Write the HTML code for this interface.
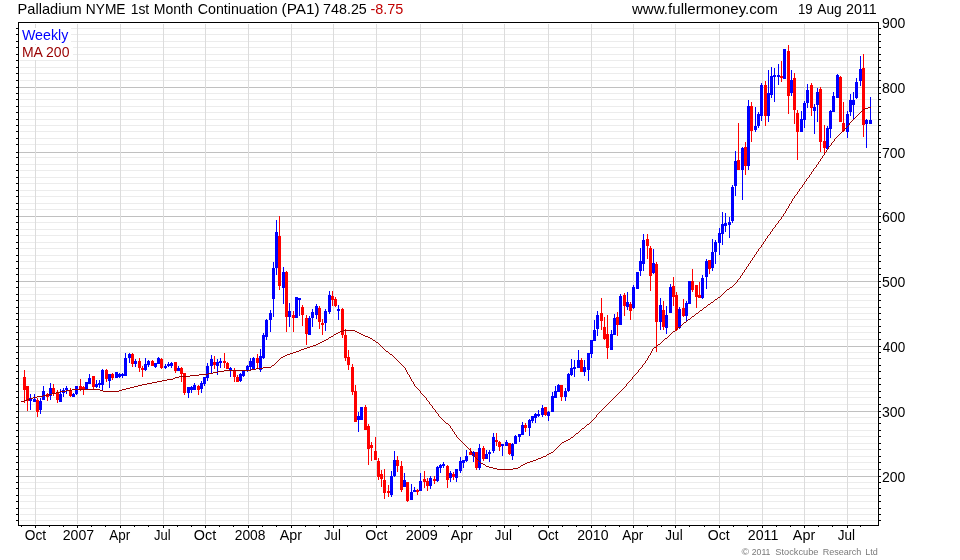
<!DOCTYPE html>
<html><head><meta charset="utf-8"><title>Palladium NYME 1st Month Continuation</title>
<style>
html,body{margin:0;padding:0;background:#fff}
body{width:960px;height:560px;position:relative;overflow:hidden;font-family:"Liberation Sans",Arial,sans-serif;color:#000}
</style></head><body>
<svg width="960" height="560" viewBox="0 0 960 560" shape-rendering="crispEdges" style="position:absolute;left:0;top:0">
<path d="M20 520.5H877M20 514.5H877M20 508.5H877M20 501.5H877M20 495.5H877M20 488.5H877M20 482.5H877M20 469.5H877M20 462.5H877M20 456.5H877M20 449.5H877M20 443.5H877M20 436.5H877M20 430.5H877M20 423.5H877M20 417.5H877M20 404.5H877M20 397.5H877M20 391.5H877M20 384.5H877M20 378.5H877M20 371.5H877M20 365.5H877M20 358.5H877M20 352.5H877M20 339.5H877M20 332.5H877M20 326.5H877M20 319.5H877M20 313.5H877M20 307.5H877M20 300.5H877M20 294.5H877M20 287.5H877M20 274.5H877M20 268.5H877M20 261.5H877M20 255.5H877M20 248.5H877M20 242.5H877M20 235.5H877M20 229.5H877M20 222.5H877M20 209.5H877M20 203.5H877M20 196.5H877M20 190.5H877M20 183.5H877M20 177.5H877M20 170.5H877M20 164.5H877M20 157.5H877M20 144.5H877M20 138.5H877M20 131.5H877M20 125.5H877M20 119.5H877M20 112.5H877M20 106.5H877M20 99.5H877M20 93.5H877M20 80.5H877M20 73.5H877M20 67.5H877M20 60.5H877M20 54.5H877M20 47.5H877M20 41.5H877M20 34.5H877M20 28.5H877" stroke="#ececec" stroke-width="1" fill="none"/>
<path d="M19 476.5H878M19 411.5H878M19 346.5H878M19 281.5H878M19 216.5H878M19 152.5H878M19 87.5H878" stroke="#c0c0c0" stroke-width="1" fill="none"/>
<path d="M35.5 24V524M77.5 24V524M120.5 24V524M163.5 24V524M205.5 24V524M248.5 24V524M291.5 24V524M333.5 24V524M376.5 24V524M420.5 24V524M462.5 24V524M504.5 24V524M548.5 24V524M591.5 24V524M633.5 24V524M675.5 24V524M719.5 24V524M762.5 24V524M804.5 24V524M847.5 24V524" stroke="#dcdcdc" stroke-width="1" fill="none"/>
<rect x="19" y="28" width="52" height="16" fill="#fff"/><rect x="19" y="45" width="54" height="15" fill="#fff"/>
<path d="M24 370h1v33h-1zM23 377h3v13h-3zM27 386h1v25h-1zM26 386h3v15h-3zM37 398h1v19h-1zM36 400h3v12h-3zM47 393h1v8h-1zM46 394h3v3h-3zM53 384h1v12h-1zM52 388h3v5h-3zM57 390h1v13h-1zM56 392h3v8h-3zM70 388h1v9h-1zM69 390h3v6h-3zM80 379h1v12h-1zM79 386h3v3h-3zM83 386h1v9h-1zM82 387h3v2h-3zM93 376h1v13h-1zM92 376h3v11h-3zM106 369h1v13h-1zM105 370h3v9h-3zM112 373h1v7h-1zM111 374h3v4h-3zM132 353h1v14h-1zM131 354h3v10h-3zM139 358h1v14h-1zM138 361h3v7h-3zM142 366h1v11h-1zM141 368h3v2h-3zM152 360h1v6h-1zM151 361h3v5h-3zM161 358h1v11h-1zM160 359h3v9h-3zM175 362h1v11h-1zM174 362h3v9h-3zM181 367h1v15h-1zM180 368h3v6h-3zM184 373h1v22h-1zM183 373h3v20h-3zM198 385h1v10h-1zM197 386h3v4h-3zM214 356h1v13h-1zM213 362h3v3h-3zM224 353h1v15h-1zM223 361h3v2h-3zM227 362h1v7h-1zM226 363h3v6h-3zM234 368h1v14h-1zM233 370h3v7h-3zM237 375h1v7h-1zM236 377h3v5h-3zM257 354h1v14h-1zM256 358h3v5h-3zM279 216h1v74h-1zM278 236h3v50h-3zM286 271h1v61h-1zM285 272h3v45h-3zM293 311h1v21h-1zM292 315h3v3h-3zM302 305h1v21h-1zM301 307h3v8h-3zM306 315h1v30h-1zM305 318h3v16h-3zM319 306h1v23h-1zM318 308h3v14h-3zM322 319h1v16h-1zM321 323h3v2h-3zM332 291h1v15h-1zM331 296h3v4h-3zM335 297h1v10h-1zM334 299h3v7h-3zM342 308h1v30h-1zM341 309h3v26h-3zM345 329h1v32h-1zM344 335h3v23h-3zM348 350h1v20h-1zM347 357h3v8h-3zM352 364h1v31h-1zM351 367h3v25h-3zM355 385h1v37h-1zM354 391h3v31h-3zM365 405h1v25h-1zM364 407h3v23h-3zM368 424h1v41h-1zM367 426h3v23h-3zM371 442h1v19h-1zM370 445h3v3h-3zM375 437h1v23h-1zM374 451h3v9h-3zM378 458h1v22h-1zM377 461h3v16h-3zM381 470h1v17h-1zM380 474h3v5h-3zM384 469h1v30h-1zM383 480h3v13h-3zM388 485h1v12h-1zM387 491h3v2h-3zM397 456h1v16h-1zM396 460h3v6h-3zM401 461h1v31h-1zM400 466h3v24h-3zM407 482h1v20h-1zM406 482h3v19h-3zM417 489h1v6h-1zM416 490h3v2h-3zM424 471h1v17h-1zM423 479h3v3h-3zM427 478h1v13h-1zM426 481h3v5h-3zM434 476h1v8h-1zM433 479h3v2h-3zM447 465h1v23h-1zM446 466h3v14h-3zM453 472h1v8h-1zM452 474h3v3h-3zM470 448h1v7h-1zM469 452h3v3h-3zM476 452h1v18h-1zM475 452h3v16h-3zM483 446h1v15h-1zM482 448h3v11h-3zM496 433h1v13h-1zM495 440h3v2h-3zM499 441h1v10h-1zM498 442h3v5h-3zM509 443h1v12h-1zM508 443h3v11h-3zM525 423h1v9h-1zM524 425h3v3h-3zM545 407h1v9h-1zM544 407h3v8h-3zM561 385h1v16h-1zM560 385h3v12h-3zM581 358h1v14h-1zM580 360h3v12h-3zM601 298h1v32h-1zM600 313h3v8h-3zM604 317h1v23h-1zM603 327h3v12h-3zM607 315h1v44h-1zM606 334h3v14h-3zM617 312h1v24h-1zM616 317h3v8h-3zM624 293h1v23h-1zM623 295h3v11h-3zM630 302h1v18h-1zM629 304h3v7h-3zM647 234h1v25h-1zM646 239h3v7h-3zM650 246h1v45h-1zM649 248h3v28h-3zM656 262h1v90h-1zM655 264h3v58h-3zM663 301h1v29h-1zM662 310h3v17h-3zM673 277h1v29h-1zM672 286h3v11h-3zM676 292h1v39h-1zM675 295h3v35h-3zM683 299h1v18h-1zM682 308h3v8h-3zM692 269h1v23h-1zM691 281h3v9h-3zM696 285h1v23h-1zM695 285h3v12h-3zM699 282h1v16h-1zM698 295h3v3h-3zM709 260h1v14h-1zM708 260h3v9h-3zM738 123h1v47h-1zM737 160h3v10h-3zM745 142h1v33h-1zM744 147h3v19h-3zM751 102h1v40h-1zM750 106h3v25h-3zM765 81h1v45h-1zM764 85h3v31h-3zM781 61h1v21h-1zM780 76h3v2h-3zM788 45h1v69h-1zM787 51h3v45h-3zM794 73h1v51h-1zM793 78h3v32h-3zM797 110h1v50h-1zM796 113h3v19h-3zM811 83h1v33h-1zM810 85h3v23h-3zM820 87h1v65h-1zM819 89h3v53h-3zM824 125h1v29h-1zM823 141h3v7h-3zM840 76h1v46h-1zM839 77h3v45h-3zM843 102h1v30h-1zM842 123h3v8h-3zM863 54h1v83h-1zM862 68h3v57h-3z" fill="#ff0000"/>
<path d="M30 394h1v16h-1zM29 398h3v3h-3zM34 394h1v8h-1zM33 399h3v3h-3zM40 398h1v16h-1zM39 401h3v9h-3zM43 386h1v14h-1zM42 391h3v9h-3zM50 383h1v17h-1zM49 388h3v8h-3zM60 389h1v13h-1zM59 394h3v8h-3zM63 388h1v9h-1zM62 390h3v3h-3zM66 386h1v8h-1zM65 388h3v2h-3zM73 393h1v4h-1zM72 394h3v3h-3zM76 386h1v9h-1zM75 386h3v8h-3zM86 382h1v7h-1zM85 382h3v7h-3zM89 374h1v10h-1zM88 378h3v6h-3zM96 380h1v8h-1zM95 384h3v3h-3zM99 380h1v8h-1zM98 383h3v2h-3zM102 369h1v21h-1zM101 370h3v15h-3zM109 374h1v14h-1zM108 374h3v7h-3zM116 372h1v6h-1zM115 372h3v6h-3zM119 373h1v5h-1zM118 374h3v3h-3zM122 373h1v5h-1zM121 374h3v2h-3zM125 353h1v23h-1zM124 358h3v18h-3zM129 353h1v10h-1zM128 354h3v4h-3zM135 359h1v8h-1zM134 361h3v3h-3zM145 358h1v13h-1zM144 364h3v6h-3zM148 360h1v7h-1zM147 361h3v4h-3zM155 363h1v5h-1zM154 363h3v4h-3zM158 357h1v7h-1zM157 358h3v6h-3zM165 364h1v5h-1zM164 366h3v2h-3zM168 362h1v5h-1zM167 364h3v2h-3zM171 362h1v6h-1zM170 363h3v3h-3zM178 366h1v5h-1zM177 368h3v3h-3zM188 387h1v11h-1zM187 387h3v6h-3zM191 386h1v7h-1zM190 387h3v3h-3zM194 383h1v7h-1zM193 385h3v5h-3zM201 381h1v12h-1zM200 383h3v6h-3zM204 377h1v9h-1zM203 377h3v7h-3zM207 363h1v18h-1zM206 366h3v12h-3zM211 355h1v18h-1zM210 359h3v7h-3zM217 359h1v16h-1zM216 362h3v4h-3zM220 358h1v10h-1zM219 361h3v2h-3zM230 367h1v10h-1zM229 368h3v2h-3zM240 373h1v9h-1zM239 374h3v7h-3zM243 371h1v6h-1zM242 371h3v5h-3zM247 365h1v7h-1zM246 366h3v4h-3zM250 358h1v12h-1zM249 361h3v6h-3zM253 357h1v13h-1zM252 358h3v11h-3zM260 349h1v23h-1zM259 356h3v14h-3zM263 333h1v26h-1zM262 335h3v23h-3zM266 319h1v21h-1zM265 320h3v17h-3zM270 310h1v22h-1zM269 313h3v7h-3zM273 262h1v55h-1zM272 268h3v31h-3zM276 220h1v55h-1zM275 232h3v36h-3zM283 267h1v37h-1zM282 272h3v16h-3zM289 303h1v24h-1zM288 311h3v6h-3zM296 297h1v21h-1zM295 297h3v21h-3zM299 298h1v18h-1zM298 298h3v2h-3zM309 316h1v19h-1zM308 318h3v17h-3zM312 309h1v18h-1zM311 312h3v6h-3zM316 304h1v15h-1zM315 306h3v9h-3zM325 309h1v22h-1zM324 311h3v12h-3zM329 291h1v23h-1zM328 295h3v17h-3zM338 305h1v15h-1zM337 309h3v2h-3zM358 412h1v20h-1zM357 416h3v4h-3zM361 407h1v13h-1zM360 407h3v13h-3zM391 471h1v26h-1zM390 476h3v19h-3zM394 451h1v26h-1zM393 460h3v16h-3zM404 473h1v14h-1zM403 480h3v7h-3zM411 484h1v16h-1zM410 492h3v8h-3zM414 487h1v5h-1zM413 490h3v2h-3zM420 473h1v18h-1zM419 481h3v10h-3zM430 476h1v13h-1zM429 478h3v8h-3zM437 466h1v16h-1zM436 467h3v14h-3zM440 464h1v9h-1zM439 465h3v3h-3zM443 462h1v6h-1zM442 464h3v2h-3zM450 471h1v11h-1zM449 473h3v5h-3zM456 469h1v13h-1zM455 469h3v9h-3zM460 457h1v16h-1zM459 461h3v10h-3zM463 460h1v8h-1zM462 460h3v3h-3zM466 450h1v12h-1zM465 456h3v5h-3zM473 451h1v11h-1zM472 452h3v4h-3zM479 444h1v26h-1zM478 448h3v20h-3zM486 450h1v9h-1zM485 454h3v5h-3zM489 450h1v12h-1zM488 452h3v2h-3zM493 433h1v20h-1zM492 437h3v14h-3zM502 444h1v12h-1zM501 444h3v2h-3zM506 440h1v6h-1zM505 442h3v4h-3zM512 443h1v17h-1zM511 444h3v12h-3zM515 435h1v9h-1zM514 436h3v8h-3zM519 434h1v8h-1zM518 434h3v3h-3zM522 422h1v13h-1zM521 425h3v10h-3zM529 419h1v17h-1zM528 420h3v8h-3zM532 416h1v7h-1zM531 416h3v5h-3zM535 413h1v10h-1zM534 414h3v4h-3zM538 410h1v7h-1zM537 414h3v2h-3zM542 405h1v12h-1zM541 408h3v7h-3zM548 411h1v10h-1zM547 412h3v4h-3zM552 392h1v20h-1zM551 396h3v16h-3zM555 386h1v12h-1zM554 391h3v7h-3zM558 384h1v8h-1zM557 385h3v7h-3zM565 388h1v13h-1zM564 391h3v6h-3zM568 373h1v19h-1zM567 374h3v17h-3zM571 359h1v17h-1zM570 368h3v7h-3zM574 360h1v17h-1zM573 367h3v2h-3zM578 350h1v18h-1zM577 360h3v8h-3zM584 360h1v16h-1zM583 367h3v5h-3zM588 353h1v28h-1zM587 353h3v17h-3zM591 340h1v18h-1zM590 340h3v14h-3zM594 320h1v21h-1zM593 330h3v11h-3zM597 311h1v25h-1zM596 315h3v14h-3zM611 330h1v20h-1zM610 334h3v16h-3zM614 314h1v21h-1zM613 318h3v17h-3zM620 294h1v31h-1zM619 296h3v29h-3zM627 292h1v18h-1zM626 302h3v5h-3zM633 285h1v24h-1zM632 287h3v21h-3zM637 272h1v17h-1zM636 272h3v17h-3zM640 248h1v28h-1zM639 261h3v10h-3zM643 234h1v37h-1zM642 240h3v24h-3zM653 249h1v25h-1zM652 263h3v10h-3zM660 298h1v32h-1zM659 305h3v17h-3zM666 306h1v28h-1zM665 315h3v13h-3zM670 284h1v29h-1zM669 287h3v26h-3zM679 307h1v22h-1zM678 309h3v19h-3zM686 301h1v21h-1zM685 303h3v13h-3zM689 281h1v23h-1zM688 281h3v23h-3zM702 275h1v24h-1zM701 278h3v20h-3zM706 259h1v30h-1zM705 261h3v16h-3zM712 239h1v32h-1zM711 252h3v16h-3zM715 240h1v24h-1zM714 242h3v10h-3zM719 228h1v27h-1zM718 233h3v10h-3zM722 212h1v33h-1zM721 224h3v10h-3zM725 213h1v19h-1zM724 223h3v3h-3zM729 217h1v21h-1zM728 222h3v3h-3zM732 185h1v38h-1zM731 187h3v34h-3zM735 151h1v45h-1zM734 161h3v25h-3zM742 147h1v53h-1zM741 148h3v22h-3zM748 100h1v70h-1zM747 106h3v60h-3zM755 107h1v25h-1zM754 126h3v4h-3zM758 112h1v16h-1zM757 114h3v12h-3zM761 83h1v38h-1zM760 85h3v31h-3zM768 70h1v52h-1zM767 93h3v23h-3zM771 67h1v31h-1zM770 76h3v19h-3zM774 68h1v34h-1zM773 75h3v2h-3zM778 64h1v21h-1zM777 75h3v2h-3zM784 49h1v30h-1zM783 49h3v30h-3zM791 70h1v26h-1zM790 80h3v13h-3zM801 111h1v21h-1zM800 119h3v13h-3zM804 101h1v27h-1zM803 103h3v17h-3zM807 84h1v24h-1zM806 90h3v13h-3zM814 104h1v30h-1zM813 107h3v4h-3zM817 88h1v34h-1zM816 92h3v13h-3zM827 126h1v23h-1zM826 128h3v21h-3zM830 110h1v28h-1zM829 111h3v18h-3zM833 92h1v20h-1zM832 96h3v16h-3zM837 74h1v24h-1zM836 75h3v23h-3zM847 111h1v27h-1zM846 114h3v18h-3zM850 94h1v22h-1zM849 100h3v12h-3zM853 92h1v28h-1zM852 100h3v5h-3zM856 78h1v21h-1zM855 82h3v16h-3zM860 56h1v30h-1zM859 69h3v12h-3zM866 119h1v29h-1zM865 120h3v4h-3zM870 97h1v27h-1zM869 120h3v4h-3z" fill="#0000ff"/>
<path d="M21 401h1v1h-1zM22 401h1v1h-1zM23 401h1v1h-1zM24 400h1v1h-1zM25 400h1v1h-1zM26 400h1v1h-1zM27 399h1v1h-1zM28 399h1v1h-1zM29 399h1v1h-1zM30 398h1v1h-1zM31 398h1v1h-1zM32 398h1v1h-1zM33 397h1v1h-1zM34 397h1v1h-1zM35 397h1v1h-1zM36 397h1v1h-1zM37 396h1v1h-1zM38 396h1v1h-1zM39 396h1v1h-1zM40 396h1v1h-1zM41 396h1v1h-1zM42 396h1v1h-1zM43 395h1v1h-1zM44 395h1v1h-1zM45 395h1v1h-1zM46 395h1v1h-1zM47 395h1v1h-1zM48 394h1v1h-1zM49 394h1v1h-1zM50 394h1v1h-1zM51 394h1v1h-1zM52 393h1v1h-1zM53 393h1v1h-1zM54 393h1v1h-1zM55 393h1v1h-1zM56 392h1v1h-1zM57 392h1v1h-1zM58 392h1v1h-1zM59 392h1v1h-1zM60 391h1v1h-1zM61 391h1v1h-1zM62 391h1v1h-1zM63 391h1v1h-1zM64 391h1v1h-1zM65 391h1v1h-1zM66 390h1v1h-1zM67 390h1v1h-1zM68 390h1v1h-1zM69 390h1v1h-1zM70 390h1v1h-1zM71 390h1v1h-1zM72 389h1v1h-1zM73 389h1v1h-1zM74 389h1v1h-1zM75 389h1v1h-1zM76 389h1v1h-1zM77 389h1v1h-1zM78 389h1v1h-1zM79 389h1v1h-1zM80 389h1v1h-1zM81 389h1v1h-1zM82 389h1v1h-1zM83 389h1v1h-1zM84 389h1v1h-1zM85 389h1v1h-1zM86 389h1v1h-1zM87 389h1v1h-1zM88 389h1v1h-1zM89 389h1v1h-1zM90 389h1v1h-1zM91 389h1v1h-1zM92 389h1v1h-1zM93 389h1v1h-1zM94 389h1v1h-1zM95 389h1v1h-1zM96 389h1v1h-1zM97 389h1v1h-1zM98 389h1v1h-1zM99 389h1v1h-1zM100 390h1v1h-1zM101 390h1v1h-1zM102 390h1v1h-1zM103 391h1v1h-1zM104 391h1v1h-1zM105 391h1v1h-1zM106 391h1v1h-1zM107 391h1v1h-1zM108 391h1v1h-1zM109 391h1v1h-1zM110 391h1v1h-1zM111 391h1v1h-1zM112 391h1v1h-1zM113 391h1v1h-1zM114 391h1v1h-1zM115 391h1v1h-1zM116 391h1v1h-1zM117 391h1v1h-1zM118 391h1v1h-1zM119 390h1v1h-1zM120 390h1v1h-1zM121 390h1v1h-1zM122 389h1v1h-1zM123 389h1v1h-1zM124 389h1v1h-1zM125 389h1v1h-1zM126 388h1v1h-1zM127 388h1v1h-1zM128 388h1v1h-1zM129 388h1v1h-1zM130 387h1v1h-1zM131 387h1v1h-1zM132 387h1v1h-1zM133 387h1v1h-1zM134 386h1v1h-1zM135 386h1v1h-1zM136 386h1v1h-1zM137 386h1v1h-1zM138 385h1v1h-1zM139 385h1v1h-1zM140 385h1v1h-1zM141 385h1v1h-1zM142 384h1v1h-1zM143 384h1v1h-1zM144 384h1v1h-1zM145 384h1v1h-1zM146 384h1v1h-1zM147 383h1v1h-1zM148 383h1v1h-1zM149 383h1v1h-1zM150 383h1v1h-1zM151 383h1v1h-1zM152 382h1v1h-1zM153 382h1v1h-1zM154 382h1v1h-1zM155 382h1v1h-1zM156 382h1v1h-1zM157 381h1v1h-1zM158 381h1v1h-1zM159 381h1v1h-1zM160 381h1v1h-1zM161 381h1v1h-1zM162 380h1v1h-1zM163 380h1v1h-1zM164 380h1v1h-1zM165 380h1v1h-1zM166 380h1v1h-1zM167 379h1v1h-1zM168 379h1v1h-1zM169 379h1v1h-1zM170 379h1v1h-1zM171 379h1v1h-1zM172 379h1v1h-1zM173 378h1v1h-1zM174 378h1v1h-1zM175 377h1v1h-1zM176 377h1v1h-1zM177 377h1v1h-1zM178 377h1v1h-1zM179 376h1v1h-1zM180 376h1v1h-1zM181 376h1v1h-1zM182 376h1v1h-1zM183 376h1v1h-1zM184 376h1v1h-1zM185 376h1v1h-1zM186 376h1v1h-1zM187 376h1v1h-1zM188 376h1v1h-1zM189 376h1v1h-1zM190 375h1v1h-1zM191 375h1v1h-1zM192 375h1v1h-1zM193 375h1v1h-1zM194 375h1v1h-1zM195 375h1v1h-1zM196 375h1v1h-1zM197 375h1v1h-1zM198 375h1v1h-1zM199 374h1v1h-1zM200 374h1v1h-1zM201 374h1v1h-1zM202 374h1v1h-1zM203 374h1v1h-1zM204 374h1v1h-1zM205 374h1v1h-1zM206 374h1v1h-1zM207 374h1v1h-1zM208 373h1v1h-1zM209 373h1v1h-1zM210 373h1v1h-1zM211 373h1v1h-1zM212 373h1v1h-1zM213 372h1v1h-1zM214 372h1v1h-1zM215 372h1v1h-1zM216 372h1v1h-1zM217 372h1v1h-1zM218 371h1v1h-1zM219 371h1v1h-1zM220 371h1v1h-1zM221 371h1v1h-1zM222 371h1v1h-1zM223 371h1v1h-1zM224 370h1v1h-1zM225 370h1v1h-1zM226 370h1v1h-1zM227 370h1v1h-1zM228 370h1v1h-1zM229 370h1v1h-1zM230 370h1v1h-1zM231 370h1v1h-1zM232 370h1v1h-1zM233 370h1v1h-1zM234 370h1v1h-1zM235 370h1v1h-1zM236 370h1v1h-1zM237 370h1v1h-1zM238 370h1v1h-1zM239 370h1v1h-1zM240 370h1v1h-1zM241 370h1v1h-1zM242 370h1v1h-1zM243 370h1v1h-1zM244 370h1v1h-1zM245 370h1v1h-1zM246 370h1v1h-1zM247 370h1v1h-1zM248 370h1v1h-1zM249 370h1v1h-1zM250 370h1v1h-1zM251 369h1v1h-1zM252 369h1v1h-1zM253 369h1v1h-1zM254 369h1v1h-1zM255 369h1v1h-1zM256 368h1v1h-1zM257 368h1v1h-1zM258 368h1v1h-1zM259 368h1v1h-1zM260 368h1v1h-1zM261 368h1v1h-1zM262 368h1v1h-1zM263 367h1v1h-1zM264 367h1v1h-1zM265 367h1v1h-1zM266 367h1v1h-1zM267 367h1v1h-1zM268 367h1v1h-1zM269 367h1v1h-1zM270 367h1v1h-1zM271 366h1v1h-1zM272 365h1v1h-1zM273 365h1v1h-1zM274 364h1v1h-1zM275 363h1v1h-1zM276 362h1v1h-1zM277 361h1v1h-1zM278 360h1v1h-1zM279 359h1v1h-1zM280 358h1v1h-1zM281 357h1v1h-1zM282 357h1v1h-1zM283 356h1v1h-1zM284 356h1v1h-1zM285 355h1v1h-1zM286 355h1v1h-1zM287 354h1v1h-1zM288 354h1v1h-1zM289 354h1v1h-1zM290 353h1v1h-1zM291 353h1v1h-1zM292 353h1v1h-1zM293 352h1v1h-1zM294 352h1v1h-1zM295 352h1v1h-1zM296 351h1v1h-1zM297 351h1v1h-1zM298 351h1v1h-1zM299 350h1v1h-1zM300 350h1v1h-1zM301 349h1v1h-1zM302 349h1v1h-1zM303 349h1v1h-1zM304 348h1v1h-1zM305 348h1v1h-1zM306 348h1v1h-1zM307 347h1v1h-1zM308 347h1v1h-1zM309 347h1v1h-1zM310 346h1v1h-1zM311 346h1v1h-1zM312 346h1v1h-1zM313 345h1v1h-1zM314 345h1v1h-1zM315 345h1v1h-1zM316 344h1v1h-1zM317 344h1v1h-1zM318 343h1v1h-1zM319 343h1v1h-1zM320 342h1v1h-1zM321 342h1v1h-1zM322 341h1v1h-1zM323 341h1v1h-1zM324 340h1v1h-1zM325 340h1v1h-1zM326 339h1v1h-1zM327 339h1v1h-1zM328 338h1v1h-1zM329 337h1v1h-1zM330 337h1v1h-1zM331 336h1v1h-1zM332 336h1v1h-1zM333 335h1v1h-1zM334 334h1v1h-1zM335 334h1v1h-1zM336 333h1v1h-1zM337 333h1v1h-1zM338 332h1v1h-1zM339 332h1v1h-1zM340 331h1v1h-1zM341 331h1v1h-1zM342 331h1v1h-1zM343 330h1v1h-1zM344 330h1v1h-1zM345 330h1v1h-1zM346 330h1v1h-1zM347 330h1v1h-1zM348 330h1v1h-1zM349 330h1v1h-1zM350 330h1v1h-1zM351 330h1v1h-1zM352 330h1v1h-1zM353 330h1v1h-1zM354 330h1v1h-1zM355 331h1v1h-1zM356 331h1v1h-1zM357 332h1v1h-1zM358 332h1v1h-1zM359 333h1v1h-1zM360 333h1v1h-1zM361 334h1v1h-1zM362 334h1v1h-1zM363 335h1v1h-1zM364 335h1v1h-1zM365 336h1v1h-1zM366 336h1v1h-1zM367 336h1v1h-1zM368 337h1v1h-1zM369 337h1v1h-1zM370 338h1v1h-1zM371 338h1v1h-1zM372 339h1v1h-1zM373 340h1v1h-1zM374 340h1v1h-1zM375 341h1v1h-1zM376 342h1v1h-1zM377 342h1v1h-1zM378 343h1v1h-1zM379 344h1v1h-1zM380 345h1v1h-1zM381 346h1v1h-1zM382 347h1v1h-1zM383 348h1v1h-1zM384 349h1v1h-1zM385 350h1v1h-1zM386 351h1v1h-1zM387 351h1v1h-1zM388 352h1v1h-1zM389 353h1v1h-1zM390 354h1v1h-1zM391 354h1v1h-1zM392 355h1v1h-1zM393 356h1v1h-1zM394 357h1v1h-1zM395 358h1v1h-1zM396 359h1v1h-1zM397 360h1v1h-1zM398 361h1v1h-1zM399 362h1v1h-1zM400 363h1v1h-1zM401 364h1v1h-1zM402 365h1v1h-1zM403 366h1v1h-1zM404 367h1v1h-1zM405 368h1v2h-1zM406 370h1v2h-1zM407 372h1v2h-1zM408 374h1v1h-1zM409 375h1v2h-1zM410 377h1v2h-1zM411 379h1v2h-1zM412 381h1v1h-1zM413 382h1v2h-1zM414 384h1v2h-1zM415 386h1v1h-1zM416 387h1v1h-1zM417 388h1v1h-1zM418 389h1v1h-1zM419 390h1v1h-1zM420 391h1v2h-1zM421 393h1v1h-1zM422 394h1v1h-1zM423 395h1v1h-1zM424 396h1v1h-1zM425 397h1v1h-1zM426 398h1v2h-1zM427 400h1v1h-1zM428 401h1v1h-1zM429 402h1v2h-1zM430 404h1v1h-1zM431 405h1v1h-1zM432 406h1v2h-1zM433 408h1v1h-1zM434 409h1v1h-1zM435 410h1v2h-1zM436 412h1v1h-1zM437 413h1v1h-1zM438 414h1v2h-1zM439 416h1v1h-1zM440 417h1v1h-1zM441 418h1v1h-1zM442 419h1v1h-1zM443 420h1v1h-1zM444 421h1v1h-1zM445 422h1v1h-1zM446 423h1v1h-1zM447 423h1v1h-1zM448 424h1v1h-1zM449 425h1v1h-1zM450 426h1v2h-1zM451 428h1v1h-1zM452 429h1v2h-1zM453 431h1v1h-1zM454 432h1v2h-1zM455 434h1v1h-1zM456 435h1v2h-1zM457 437h1v1h-1zM458 438h1v1h-1zM459 439h1v1h-1zM460 440h1v1h-1zM461 441h1v1h-1zM462 442h1v1h-1zM463 443h1v1h-1zM464 444h1v1h-1zM465 445h1v1h-1zM466 446h1v1h-1zM467 447h1v1h-1zM468 448h1v1h-1zM469 449h1v1h-1zM470 450h1v1h-1zM471 451h1v2h-1zM472 453h1v1h-1zM473 454h1v2h-1zM474 456h1v1h-1zM475 457h1v1h-1zM476 458h1v1h-1zM477 459h1v1h-1zM478 460h1v1h-1zM479 461h1v1h-1zM480 462h1v1h-1zM481 463h1v1h-1zM482 463h1v1h-1zM483 464h1v1h-1zM484 464h1v1h-1zM485 465h1v1h-1zM486 466h1v1h-1zM487 466h1v1h-1zM488 466h1v1h-1zM489 467h1v1h-1zM490 467h1v1h-1zM491 467h1v1h-1zM492 467h1v1h-1zM493 468h1v1h-1zM494 468h1v1h-1zM495 468h1v1h-1zM496 468h1v1h-1zM497 469h1v1h-1zM498 469h1v1h-1zM499 469h1v1h-1zM500 469h1v1h-1zM501 469h1v1h-1zM502 469h1v1h-1zM503 469h1v1h-1zM504 469h1v1h-1zM505 469h1v1h-1zM506 469h1v1h-1zM507 469h1v1h-1zM508 469h1v1h-1zM509 469h1v1h-1zM510 469h1v1h-1zM511 469h1v1h-1zM512 469h1v1h-1zM513 468h1v1h-1zM514 468h1v1h-1zM515 468h1v1h-1zM516 468h1v1h-1zM517 468h1v1h-1zM518 467h1v1h-1zM519 467h1v1h-1zM520 466h1v1h-1zM521 465h1v1h-1zM522 465h1v1h-1zM523 464h1v1h-1zM524 464h1v1h-1zM525 463h1v1h-1zM526 463h1v1h-1zM527 462h1v1h-1zM528 462h1v1h-1zM529 462h1v1h-1zM530 461h1v1h-1zM531 461h1v1h-1zM532 461h1v1h-1zM533 460h1v1h-1zM534 460h1v1h-1zM535 460h1v1h-1zM536 459h1v1h-1zM537 459h1v1h-1zM538 458h1v1h-1zM539 458h1v1h-1zM540 458h1v1h-1zM541 457h1v1h-1zM542 457h1v1h-1zM543 456h1v1h-1zM544 456h1v1h-1zM545 456h1v1h-1zM546 455h1v1h-1zM547 454h1v1h-1zM548 454h1v1h-1zM549 453h1v1h-1zM550 453h1v1h-1zM551 452h1v1h-1zM552 452h1v1h-1zM553 451h1v1h-1zM554 450h1v1h-1zM555 449h1v1h-1zM556 448h1v1h-1zM557 447h1v1h-1zM558 446h1v1h-1zM559 445h1v1h-1zM560 444h1v1h-1zM561 443h1v1h-1zM562 442h1v1h-1zM563 442h1v1h-1zM564 441h1v1h-1zM565 441h1v1h-1zM566 440h1v1h-1zM567 440h1v1h-1zM568 439h1v1h-1zM569 439h1v1h-1zM570 438h1v1h-1zM571 437h1v1h-1zM572 437h1v1h-1zM573 436h1v1h-1zM574 435h1v1h-1zM575 434h1v1h-1zM576 433h1v1h-1zM577 433h1v1h-1zM578 432h1v1h-1zM579 431h1v1h-1zM580 430h1v1h-1zM581 429h1v1h-1zM582 428h1v1h-1zM583 428h1v1h-1zM584 427h1v1h-1zM585 426h1v1h-1zM586 425h1v1h-1zM587 424h1v1h-1zM588 424h1v1h-1zM589 423h1v1h-1zM590 422h1v1h-1zM591 421h1v1h-1zM592 420h1v1h-1zM593 419h1v1h-1zM594 418h1v1h-1zM595 417h1v1h-1zM596 415h1v2h-1zM597 414h1v1h-1zM598 413h1v1h-1zM599 412h1v1h-1zM600 411h1v1h-1zM601 410h1v1h-1zM602 409h1v1h-1zM603 408h1v1h-1zM604 407h1v1h-1zM605 406h1v1h-1zM606 405h1v1h-1zM607 404h1v1h-1zM608 403h1v1h-1zM609 402h1v1h-1zM610 401h1v1h-1zM611 400h1v1h-1zM612 399h1v1h-1zM613 398h1v1h-1zM614 397h1v1h-1zM615 396h1v1h-1zM616 395h1v1h-1zM617 394h1v1h-1zM618 393h1v1h-1zM619 392h1v1h-1zM620 391h1v1h-1zM621 390h1v1h-1zM622 389h1v1h-1zM623 388h1v1h-1zM624 387h1v1h-1zM625 386h1v1h-1zM626 384h1v2h-1zM627 383h1v1h-1zM628 382h1v1h-1zM629 381h1v1h-1zM630 380h1v1h-1zM631 379h1v1h-1zM632 377h1v2h-1zM633 376h1v1h-1zM634 375h1v1h-1zM635 374h1v1h-1zM636 373h1v1h-1zM637 372h1v1h-1zM638 370h1v2h-1zM639 369h1v1h-1zM640 368h1v1h-1zM641 367h1v1h-1zM642 365h1v2h-1zM643 364h1v1h-1zM644 363h1v1h-1zM645 361h1v2h-1zM646 360h1v1h-1zM647 358h1v2h-1zM648 356h1v2h-1zM649 355h1v1h-1zM650 353h1v2h-1zM651 351h1v2h-1zM652 349h1v2h-1zM653 348h1v1h-1zM654 347h1v1h-1zM655 347h1v1h-1zM656 346h1v1h-1zM657 345h1v1h-1zM658 344h1v1h-1zM659 344h1v1h-1zM660 343h1v1h-1zM661 342h1v1h-1zM662 341h1v1h-1zM663 340h1v1h-1zM664 339h1v1h-1zM665 338h1v1h-1zM666 338h1v1h-1zM667 337h1v1h-1zM668 336h1v1h-1zM669 335h1v1h-1zM670 334h1v1h-1zM671 333h1v1h-1zM672 332h1v1h-1zM673 331h1v1h-1zM674 331h1v1h-1zM675 330h1v1h-1zM676 329h1v1h-1zM677 328h1v1h-1zM678 327h1v1h-1zM679 327h1v1h-1zM680 326h1v1h-1zM681 325h1v1h-1zM682 324h1v1h-1zM683 323h1v1h-1zM684 322h1v1h-1zM685 322h1v1h-1zM686 321h1v1h-1zM687 320h1v1h-1zM688 319h1v1h-1zM689 319h1v1h-1zM690 318h1v1h-1zM691 317h1v1h-1zM692 316h1v1h-1zM693 316h1v1h-1zM694 315h1v1h-1zM695 314h1v1h-1zM696 313h1v1h-1zM697 313h1v1h-1zM698 312h1v1h-1zM699 311h1v1h-1zM700 310h1v1h-1zM701 310h1v1h-1zM702 309h1v1h-1zM703 308h1v1h-1zM704 307h1v1h-1zM705 307h1v1h-1zM706 306h1v1h-1zM707 305h1v1h-1zM708 304h1v1h-1zM709 304h1v1h-1zM710 303h1v1h-1zM711 302h1v1h-1zM712 302h1v1h-1zM713 301h1v1h-1zM714 300h1v1h-1zM715 299h1v1h-1zM716 299h1v1h-1zM717 298h1v1h-1zM718 297h1v1h-1zM719 297h1v1h-1zM720 296h1v1h-1zM721 295h1v1h-1zM722 294h1v1h-1zM723 293h1v1h-1zM724 292h1v1h-1zM725 291h1v1h-1zM726 290h1v1h-1zM727 289h1v1h-1zM728 289h1v1h-1zM729 288h1v1h-1zM730 287h1v1h-1zM731 287h1v1h-1zM732 286h1v1h-1zM733 285h1v1h-1zM734 284h1v1h-1zM735 283h1v1h-1zM736 282h1v1h-1zM737 280h1v2h-1zM738 279h1v1h-1zM739 278h1v1h-1zM740 276h1v2h-1zM741 275h1v1h-1zM742 273h1v2h-1zM743 272h1v1h-1zM744 270h1v2h-1zM745 269h1v1h-1zM746 267h1v2h-1zM747 266h1v1h-1zM748 264h1v2h-1zM749 263h1v1h-1zM750 261h1v2h-1zM751 260h1v1h-1zM752 258h1v2h-1zM753 257h1v1h-1zM754 255h1v2h-1zM755 254h1v1h-1zM756 252h1v2h-1zM757 251h1v1h-1zM758 249h1v2h-1zM759 248h1v1h-1zM760 247h1v1h-1zM761 245h1v2h-1zM762 244h1v1h-1zM763 242h1v2h-1zM764 241h1v1h-1zM765 239h1v2h-1zM766 238h1v1h-1zM767 236h1v2h-1zM768 235h1v1h-1zM769 234h1v1h-1zM770 232h1v2h-1zM771 231h1v1h-1zM772 229h1v2h-1zM773 228h1v1h-1zM774 227h1v1h-1zM775 225h1v2h-1zM776 224h1v1h-1zM777 223h1v1h-1zM778 221h1v2h-1zM779 220h1v1h-1zM780 219h1v1h-1zM781 217h1v2h-1zM782 216h1v1h-1zM783 214h1v2h-1zM784 213h1v1h-1zM785 211h1v2h-1zM786 209h1v2h-1zM787 208h1v1h-1zM788 206h1v2h-1zM789 204h1v2h-1zM790 203h1v1h-1zM791 201h1v2h-1zM792 199h1v2h-1zM793 198h1v1h-1zM794 196h1v2h-1zM795 195h1v1h-1zM796 194h1v1h-1zM797 192h1v2h-1zM798 191h1v1h-1zM799 189h1v2h-1zM800 188h1v1h-1zM801 187h1v1h-1zM802 185h1v2h-1zM803 184h1v1h-1zM804 182h1v2h-1zM805 181h1v1h-1zM806 179h1v2h-1zM807 178h1v1h-1zM808 177h1v1h-1zM809 175h1v2h-1zM810 174h1v1h-1zM811 172h1v2h-1zM812 171h1v1h-1zM813 169h1v2h-1zM814 168h1v1h-1zM815 167h1v1h-1zM816 165h1v2h-1zM817 164h1v1h-1zM818 162h1v2h-1zM819 161h1v1h-1zM820 159h1v2h-1zM821 158h1v1h-1zM822 156h1v2h-1zM823 155h1v1h-1zM824 153h1v2h-1zM825 152h1v1h-1zM826 150h1v2h-1zM827 149h1v1h-1zM828 147h1v2h-1zM829 146h1v1h-1zM830 145h1v1h-1zM831 143h1v2h-1zM832 142h1v1h-1zM833 141h1v1h-1zM834 139h1v2h-1zM835 138h1v1h-1zM836 137h1v1h-1zM837 136h1v1h-1zM838 135h1v1h-1zM839 134h1v1h-1zM840 133h1v1h-1zM841 132h1v1h-1zM842 131h1v1h-1zM843 130h1v1h-1zM844 129h1v1h-1zM845 128h1v1h-1zM846 127h1v1h-1zM847 126h1v1h-1zM848 125h1v1h-1zM849 123h1v2h-1zM850 122h1v1h-1zM851 121h1v1h-1zM852 120h1v1h-1zM853 119h1v1h-1zM854 118h1v1h-1zM855 117h1v1h-1zM856 116h1v1h-1zM857 115h1v1h-1zM858 114h1v1h-1zM859 113h1v1h-1zM860 112h1v1h-1zM861 111h1v1h-1zM862 110h1v1h-1zM863 109h1v1h-1zM864 109h1v1h-1zM865 108h1v1h-1zM866 108h1v1h-1zM867 108h1v1h-1zM868 107h1v1h-1zM869 107h1v1h-1zM870 107h1v1h-1z" fill="#990000"/>
<path d="M18.5 22V526M878.5 22V526M18 22.5H879M18 525.5H879" stroke="#000" stroke-width="1" fill="none"/>
<path d="M16 520.5H18M879 520.5H881M16 514.5H18M879 514.5H881M16 508.5H18M879 508.5H881M16 501.5H18M879 501.5H881M16 495.5H18M879 495.5H881M16 488.5H18M879 488.5H881M16 482.5H18M879 482.5H881M16 476.5H18M879 476.5H881M16 469.5H18M879 469.5H881M16 462.5H18M879 462.5H881M16 456.5H18M879 456.5H881M16 449.5H18M879 449.5H881M16 443.5H18M879 443.5H881M16 436.5H18M879 436.5H881M16 430.5H18M879 430.5H881M16 423.5H18M879 423.5H881M16 417.5H18M879 417.5H881M16 411.5H18M879 411.5H881M16 404.5H18M879 404.5H881M16 397.5H18M879 397.5H881M16 391.5H18M879 391.5H881M16 384.5H18M879 384.5H881M16 378.5H18M879 378.5H881M16 371.5H18M879 371.5H881M16 365.5H18M879 365.5H881M16 358.5H18M879 358.5H881M16 352.5H18M879 352.5H881M16 346.5H18M879 346.5H881M16 339.5H18M879 339.5H881M16 332.5H18M879 332.5H881M16 326.5H18M879 326.5H881M16 319.5H18M879 319.5H881M16 313.5H18M879 313.5H881M16 307.5H18M879 307.5H881M16 300.5H18M879 300.5H881M16 294.5H18M879 294.5H881M16 287.5H18M879 287.5H881M16 281.5H18M879 281.5H881M16 274.5H18M879 274.5H881M16 268.5H18M879 268.5H881M16 261.5H18M879 261.5H881M16 255.5H18M879 255.5H881M16 248.5H18M879 248.5H881M16 242.5H18M879 242.5H881M16 235.5H18M879 235.5H881M16 229.5H18M879 229.5H881M16 222.5H18M879 222.5H881M16 216.5H18M879 216.5H881M16 209.5H18M879 209.5H881M16 203.5H18M879 203.5H881M16 196.5H18M879 196.5H881M16 190.5H18M879 190.5H881M16 183.5H18M879 183.5H881M16 177.5H18M879 177.5H881M16 170.5H18M879 170.5H881M16 164.5H18M879 164.5H881M16 157.5H18M879 157.5H881M16 152.5H18M879 152.5H881M16 144.5H18M879 144.5H881M16 138.5H18M879 138.5H881M16 131.5H18M879 131.5H881M16 125.5H18M879 125.5H881M16 119.5H18M879 119.5H881M16 112.5H18M879 112.5H881M16 106.5H18M879 106.5H881M16 99.5H18M879 99.5H881M16 93.5H18M879 93.5H881M16 87.5H18M879 87.5H881M16 80.5H18M879 80.5H881M16 73.5H18M879 73.5H881M16 67.5H18M879 67.5H881M16 60.5H18M879 60.5H881M16 54.5H18M879 54.5H881M16 47.5H18M879 47.5H881M16 41.5H18M879 41.5H881M16 34.5H18M879 34.5H881M16 28.5H18M879 28.5H881" stroke="#000" stroke-width="1" fill="none"/>
<path d="M21.5 526V527M35.5 526V528M49.5 526V527M63.5 526V527M77.5 526V528M91.5 526V527M105.5 526V527M120.5 526V528M134.5 526V527M148.5 526V527M163.5 526V528M177.5 526V527M191.5 526V527M205.5 526V528M219.5 526V527M233.5 526V527M248.5 526V528M262.5 526V527M276.5 526V527M291.5 526V528M305.5 526V527M319.5 526V527M333.5 526V528M347.5 526V527M361.5 526V527M376.5 526V528M390.5 526V527M405.5 526V527M420.5 526V528M434.5 526V527M448.5 526V527M462.5 526V528M476.5 526V527M490.5 526V527M504.5 526V528M518.5 526V527M533.5 526V527M548.5 526V528M562.5 526V527M576.5 526V527M591.5 526V528M605.5 526V527M619.5 526V527M633.5 526V528M647.5 526V527M661.5 526V527M675.5 526V528M689.5 526V527M704.5 526V527M719.5 526V528M733.5 526V527M747.5 526V527M762.5 526V528M776.5 526V527M790.5 526V527M804.5 526V528M818.5 526V527M832.5 526V527M847.5 526V528M860.5 526V527" stroke="#000" stroke-width="1" fill="none"/>
<g font-family="Liberation Sans, Arial, sans-serif" shape-rendering="auto"><text x="17.60" y="14" font-size="15" fill="#000" textLength="64.05" lengthAdjust="spacingAndGlyphs">Palladium</text>
<text x="85.80" y="14" font-size="15" fill="#000" textLength="39.74" lengthAdjust="spacingAndGlyphs">NYME</text>
<text x="130.68" y="14" font-size="15" fill="#000" textLength="18.52" lengthAdjust="spacingAndGlyphs">1st</text>
<text x="153.78" y="14" font-size="15" fill="#000" textLength="39.08" lengthAdjust="spacingAndGlyphs">Month</text>
<text x="197.70" y="14" font-size="15" fill="#000" textLength="80.00" lengthAdjust="spacingAndGlyphs">Continuation</text>
<text x="281.54" y="14" font-size="15" fill="#000" textLength="38.03" lengthAdjust="spacingAndGlyphs">(PA1)</text>
<text x="323.12" y="14" font-size="15" fill="#000" textLength="43.65" lengthAdjust="spacingAndGlyphs">748.25</text>
<text x="370.48" y="14" font-size="15" fill="#c00000" textLength="32.91" lengthAdjust="spacingAndGlyphs">-8.75</text>
<text x="631.90" y="14" font-size="15" fill="#000" textLength="145.98" lengthAdjust="spacingAndGlyphs">www.fullermoney.com</text>
<text x="797.97" y="14" font-size="15" fill="#000" textLength="14.74" lengthAdjust="spacingAndGlyphs">19</text>
<text x="817.35" y="14" font-size="15" fill="#000" textLength="24.35" lengthAdjust="spacingAndGlyphs">Aug</text>
<text x="846.12" y="14" font-size="15" fill="#000" textLength="30.59" lengthAdjust="spacingAndGlyphs">2011</text>
<text x="21.92" y="40" font-size="14" fill="#0000ff" textLength="46.37" lengthAdjust="spacingAndGlyphs">Weekly</text>
<text x="21.94" y="57" font-size="14" fill="#990000" textLength="47.51" lengthAdjust="spacingAndGlyphs">MA 200</text>
<text x="24.70" y="540" font-size="14" fill="#000" textLength="21.38" lengthAdjust="spacingAndGlyphs">Oct</text>
<text x="62.76" y="540" font-size="14" fill="#000" textLength="31.50" lengthAdjust="spacingAndGlyphs">2007</text>
<text x="109.20" y="540" font-size="14" fill="#000" textLength="20.97" lengthAdjust="spacingAndGlyphs">Apr</text>
<text x="154.06" y="540" font-size="14" fill="#000" textLength="16.60" lengthAdjust="spacingAndGlyphs">Jul</text>
<text x="193.76" y="540" font-size="14" fill="#000" textLength="22.39" lengthAdjust="spacingAndGlyphs">Oct</text>
<text x="234.70" y="540" font-size="14" fill="#000" textLength="30.78" lengthAdjust="spacingAndGlyphs">2008</text>
<text x="279.84" y="540" font-size="14" fill="#000" textLength="22.28" lengthAdjust="spacingAndGlyphs">Apr</text>
<text x="324.06" y="540" font-size="14" fill="#000" textLength="16.75" lengthAdjust="spacingAndGlyphs">Jul</text>
<text x="365.34" y="540" font-size="14" fill="#000" textLength="22.12" lengthAdjust="spacingAndGlyphs">Oct</text>
<text x="405.76" y="540" font-size="14" fill="#000" textLength="32.15" lengthAdjust="spacingAndGlyphs">2009</text>
<text x="450.84" y="540" font-size="14" fill="#000" textLength="21.94" lengthAdjust="spacingAndGlyphs">Apr</text>
<text x="494.84" y="540" font-size="14" fill="#000" textLength="17.09" lengthAdjust="spacingAndGlyphs">Jul</text>
<text x="537.70" y="540" font-size="14" fill="#000" textLength="20.79" lengthAdjust="spacingAndGlyphs">Oct</text>
<text x="577.20" y="540" font-size="14" fill="#000" textLength="31.32" lengthAdjust="spacingAndGlyphs">2010</text>
<text x="622.20" y="540" font-size="14" fill="#000" textLength="21.20" lengthAdjust="spacingAndGlyphs">Apr</text>
<text x="665.34" y="540" font-size="14" fill="#000" textLength="17.37" lengthAdjust="spacingAndGlyphs">Jul</text>
<text x="707.76" y="540" font-size="14" fill="#000" textLength="21.95" lengthAdjust="spacingAndGlyphs">Oct</text>
<text x="747.76" y="540" font-size="14" fill="#000" textLength="30.60" lengthAdjust="spacingAndGlyphs">2011</text>
<text x="792.84" y="540" font-size="14" fill="#000" textLength="22.38" lengthAdjust="spacingAndGlyphs">Apr</text>
<text x="837.70" y="540" font-size="14" fill="#000" textLength="17.37" lengthAdjust="spacingAndGlyphs">Jul</text>
<text x="741.56" y="555" font-size="9.5" fill="#7a7a7a" textLength="7.71" lengthAdjust="spacingAndGlyphs">©</text>
<text x="751.70" y="555" font-size="9.5" fill="#7a7a7a" textLength="18.80" lengthAdjust="spacingAndGlyphs">2011</text>
<text x="775.34" y="555" font-size="9.5" fill="#7a7a7a" textLength="43.09" lengthAdjust="spacingAndGlyphs">Stockcube</text>
<text x="822.70" y="555" font-size="9.5" fill="#7a7a7a" textLength="38.73" lengthAdjust="spacingAndGlyphs">Research</text>
<text x="865.34" y="555" font-size="9.5" fill="#7a7a7a" textLength="12.58" lengthAdjust="spacingAndGlyphs">Ltd</text>
<text x="881.98" y="28" font-size="14" fill="#000" textLength="23.41" lengthAdjust="spacingAndGlyphs">900</text>
<text x="881.98" y="93" font-size="14" fill="#000" textLength="23.41" lengthAdjust="spacingAndGlyphs">800</text>
<text x="881.98" y="158" font-size="14" fill="#000" textLength="23.41" lengthAdjust="spacingAndGlyphs">700</text>
<text x="881.98" y="222" font-size="14" fill="#000" textLength="23.41" lengthAdjust="spacingAndGlyphs">600</text>
<text x="881.98" y="287" font-size="14" fill="#000" textLength="23.41" lengthAdjust="spacingAndGlyphs">500</text>
<text x="882.78" y="352" font-size="14" fill="#000" textLength="22.55" lengthAdjust="spacingAndGlyphs">400</text>
<text x="881.98" y="417" font-size="14" fill="#000" textLength="23.41" lengthAdjust="spacingAndGlyphs">300</text>
<text x="881.98" y="482" font-size="14" fill="#000" textLength="23.41" lengthAdjust="spacingAndGlyphs">200</text></g>
</svg>
</body></html>
